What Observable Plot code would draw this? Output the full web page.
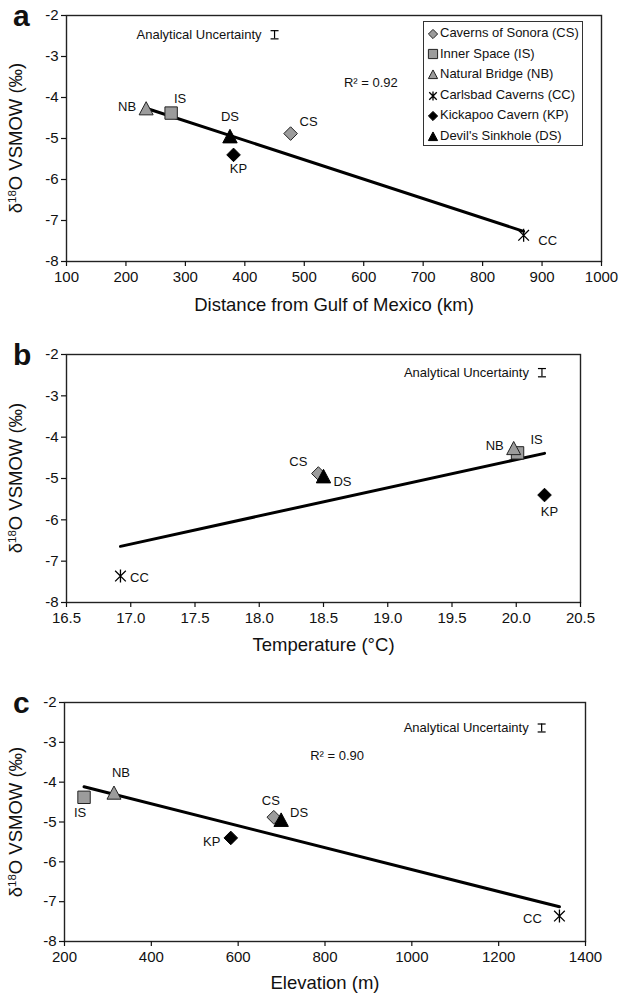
<!DOCTYPE html>
<html>
<head>
<meta charset="utf-8">
<script src="https://cdn.jsdelivr.net/npm/d3@7"></script>
<script src="https://cdn.jsdelivr.net/npm/@observablehq/plot@0.6"></script>
<style>
  html, body { margin: 0; padding: 0; background: #fff; }
  body { font-family: "Liberation Sans", Arial, Helvetica, sans-serif; color: #111; }
  #root { position: relative; width: 622px; height: 1001px; overflow: hidden; }
  .panel { position: absolute; left: 0; }
  .letter { position: absolute; left: 13px; font-weight: bold; font-size: 30px; line-height: 30px; }
  .ytitle { position: absolute; white-space: nowrap; font-size: 18.5px; line-height: 20px;
            transform: translate(-50%, -50%) rotate(-90deg); }
  .ytitle sup { font-size: 0.62em; vertical-align: 0.55em; line-height: 0; }
  .legend { position: absolute; box-sizing: border-box; border: 1px solid #333; background: #fff;
            font-size: 13px; padding-top: 1px; }
  .legend .row { position: relative; height: 20.6px; line-height: 20.6px; white-space: nowrap; }
  .legend svg { position: absolute; left: 3px; top: 4.8px; }
  .legend span { position: absolute; left: 16px; }
</style>
</head>
<body>
<div id="root"></div>
<script>
// ---------------- data ----------------
const sites = ["CS", "IS", "NB", "CC", "KP", "DS"];
const siteNames = ["Caverns of Sonora", "Inner Space", "Natural Bridge", "Carlsbad Caverns", "Kickapoo Cavern", "Devil's Sinkhole"];
const d18O = [-4.88, -4.38, -4.29, -7.36, -5.40, -4.97];
const distanceKm = [477, 276, 234, 869, 381, 375];
const temperatureC = [18.46, 20.01, 19.98, 16.92, 20.22, 18.50];
const elevationM = [682, 245, 314, 1340, 583, 699];

const yTicks = [-2, -3, -4, -5, -6, -7, -8];
const xTicksA = [100, 200, 300, 400, 500, 600, 700, 800, 900, 1000];
const xTicksB = [16.5, 17.0, 17.5, 18.0, 18.5, 19.0, 19.5, 20.0, 20.5];
const xTicksC = [200, 400, 600, 800, 1000, 1200, 1400];

const xTitles = ["Distance from Gulf of Mexico (km)", "Temperature (°C)", "Elevation (m)"];
const panelLetters = ["a", "b", "c"];

const uncertaintyHalf = 0.1;
const uncertaintyX = [450, 20.20, 1299];
const uncertaintyY = [-2.47, -2.44, -2.64];
const r2Labels = ["R² = 0.92", null, "R² = 0.90"];
const r2X = [612, null, 828];
const r2Y = [-3.64, null, -3.34];

// ---------------- styles ----------------
const FONT = '"Liberation Sans", Arial, Helvetica, sans-serif';
const GRAY = "#9c9c9c";

function makeSym(fn) { return { draw(ctx, size) { const h = Math.sqrt(size / Math.PI); fn(ctx, h); } }; }
const SYM = {
  diamond: makeSym((c, h) => { c.moveTo(0, -h); c.lineTo(h, 0); c.lineTo(0, h); c.lineTo(-h, 0); c.closePath(); }),
  square: makeSym((c, h) => { c.moveTo(-h, -h); c.lineTo(h, -h); c.lineTo(h, h); c.lineTo(-h, h); c.closePath(); }),
  triangle: makeSym((c, h) => { c.moveTo(0, -h * 1.1); c.lineTo(h, h * 0.78); c.lineTo(-h, h * 0.78); c.closePath(); }),
  asterisk: makeSym((c, h) => { const k = h * 0.82; c.moveTo(0, -h); c.lineTo(0, h); c.moveTo(-k, -k); c.lineTo(k, k); c.moveTo(-k, k); c.lineTo(k, -k); }),
  hline: makeSym((c, h) => { c.moveTo(-h, 0); c.lineTo(h, 0); })
};
const siteStyle = {
  CS: { symbol: SYM.diamond, fill: GRAY, stroke: "#222", strokeWidth: 1, r: 6.8 },
  IS: { symbol: SYM.square, fill: GRAY, stroke: "#222", strokeWidth: 1, r: 6.2 },
  NB: { symbol: SYM.triangle, fill: GRAY, stroke: "#222", strokeWidth: 1, r: 7 },
  CC: { symbol: SYM.asterisk, fill: "none", stroke: "#000", strokeWidth: 1.3, r: 6.5 },
  KP: { symbol: SYM.diamond, fill: "#000", stroke: "#000", strokeWidth: 1, r: 6.8 },
  DS: { symbol: SYM.triangle, fill: "#000", stroke: "#000", strokeWidth: 1, r: 7.2 }
};

// panel layout (pixels)
const layouts = [
  { top: 0, height: 330, mt: 15, mb: 69, ml: 66, mr: 21, titleDy: 49, xDomain: [100, 1000], xTicks: xTicksA, xFormat: d => String(d), X: distanceKm,
    labelOff: { NB: [-19, -3], IS: [9, -14], DS: [0, -20], KP: [5, 14], CS: [18, -12], CC: [24, 6] } },
  { top: 330, height: 330, mt: 24, mb: 58, ml: 66, mr: 42, titleDy: 48, xDomain: [16.5, 20.5], xTicks: xTicksB, xFormat: d3.format(".1f"), X: temperatureC,
    labelOff: { CS: [-20, -12], DS: [19, 5], NB: [-19, -3], IS: [19, -13], KP: [5, 17], CC: [19, 2] } },
  { top: 660, height: 341, mt: 42, mb: 60, ml: 64, mr: 37, titleDy: 47, xDomain: [200, 1400], xTicks: xTicksC, xFormat: d => String(d), X: elevationM,
    labelOff: { IS: [-4, 16], NB: [7, -21], CS: [-3, -16], DS: [18, -8], KP: [-19, 4], CC: [-27, 3] } }
];

const root = document.getElementById("root");
const idx = d3.range(sites.length);

layouts.forEach((L, p) => {
  const X = L.X;
  const marks = [];
  marks.push(Plot.frame({ stroke: "#222", strokeWidth: 1.4 }));
  marks.push(Plot.axisX({ ticks: L.xTicks, tickFormat: L.xFormat, tickSize: 5, tickPadding: 5, fontSize: 15, label: null, strokeWidth: 1.2 }));
  marks.push(Plot.axisY({ ticks: yTicks, tickFormat: d => String(d), tickSize: 5, tickPadding: 3, fontSize: 15, label: null, strokeWidth: 1.2 }));
  marks.push(Plot.text([xTitles[p]], { frameAnchor: "bottom", dy: L.titleDy, fontSize: 18.5, text: d => d }));
  // regression line (least squares through the six caves)
  marks.push(Plot.linearRegressionY(idx, { x: i => X[i], y: i => d18O[i], stroke: "#000", strokeWidth: 3, ci: 0 }));
  // analytical uncertainty
  const u = [p];
  marks.push(Plot.ruleX(u, { x: i => uncertaintyX[i], y1: i => uncertaintyY[i] - uncertaintyHalf, y2: i => uncertaintyY[i] + uncertaintyHalf, stroke: "#000", strokeWidth: 1.2 }));
  marks.push(Plot.dot(u, { x: i => uncertaintyX[i], y: i => uncertaintyY[i] - uncertaintyHalf, symbol: SYM.hline, r: 4, stroke: "#000", strokeWidth: 1.2 }));
  marks.push(Plot.dot(u, { x: i => uncertaintyX[i], y: i => uncertaintyY[i] + uncertaintyHalf, symbol: SYM.hline, r: 4, stroke: "#000", strokeWidth: 1.2 }));
  marks.push(Plot.text(u, { x: i => uncertaintyX[i], y: i => uncertaintyY[i], text: () => "Analytical Uncertainty", textAnchor: "end", dx: -13, fontSize: 13 }));
  if (r2Labels[p]) {
    marks.push(Plot.text(u, { x: i => r2X[i], y: i => r2Y[i], text: i => r2Labels[i], fontSize: 13 }));
  }
  // points
  idx.forEach(i => {
    const s = siteStyle[sites[i]];
    marks.push(Plot.dot([i], { x: j => X[j], y: j => d18O[j], symbol: s.symbol, r: s.r, fill: s.fill, stroke: s.stroke, strokeWidth: s.strokeWidth }));
  });
  // point labels
  idx.forEach(i => {
    const off = L.labelOff[sites[i]];
    marks.push(Plot.text([i], { x: j => X[j], y: j => d18O[j], text: j => sites[j], dx: off[0], dy: off[1], fontSize: 13 }));
  });

  const svg = Plot.plot({
    width: 622,
    height: L.height,
    marginTop: L.mt, marginBottom: L.mb, marginLeft: L.ml, marginRight: L.mr,
    x: { domain: L.xDomain },
    y: { domain: [-8, -2] },
    style: { fontFamily: FONT, color: "#111", background: "transparent", overflow: "visible" },
    marks
  });
  const holder = document.createElement("div");
  holder.className = "panel";
  holder.style.top = L.top + "px";
  holder.appendChild(svg);
  root.appendChild(holder);

  // panel letter
  const letter = document.createElement("div");
  letter.className = "letter";
  letter.textContent = panelLetters[p];
  const frameTop = L.top + L.mt;
  letter.style.top = (frameTop - 14.5) + "px";
  root.appendChild(letter);

  // y title (with superscript)
  const yt = document.createElement("div");
  yt.className = "ytitle";
  yt.innerHTML = "δ<sup>18</sup>O VSMOW (‰)";
  const frameBottom = L.top + L.height - L.mb;
  yt.style.left = "16px";
  yt.style.top = ((frameTop + frameBottom) / 2) + "px";
  root.appendChild(yt);
});

// legend (panel a)
const legend = document.createElement("div");
legend.className = "legend";
legend.style.left = "423px";
legend.style.top = "21px";
legend.style.width = "160px";
legend.style.height = "125px";
idx.forEach(i => {
  const s = siteStyle[sites[i]];
  const row = document.createElement("div");
  row.className = "row";
  const r = 4.6;
  const path = d3.path();
  s.symbol.draw(path, r * r * Math.PI);
  const sv = d3.create("svg").attr("width", 12).attr("height", 12).attr("viewBox", "-6 -6 12 12");
  sv.append("path").attr("d", path.toString()).attr("fill", s.fill).attr("stroke", s.stroke).attr("stroke-width", s.strokeWidth);
  row.appendChild(sv.node());
  const span = document.createElement("span");
  span.textContent = `${siteNames[i]} (${sites[i]})`;
  row.appendChild(span);
  legend.appendChild(row);
});
root.appendChild(legend);
</script>
</body>
</html>
